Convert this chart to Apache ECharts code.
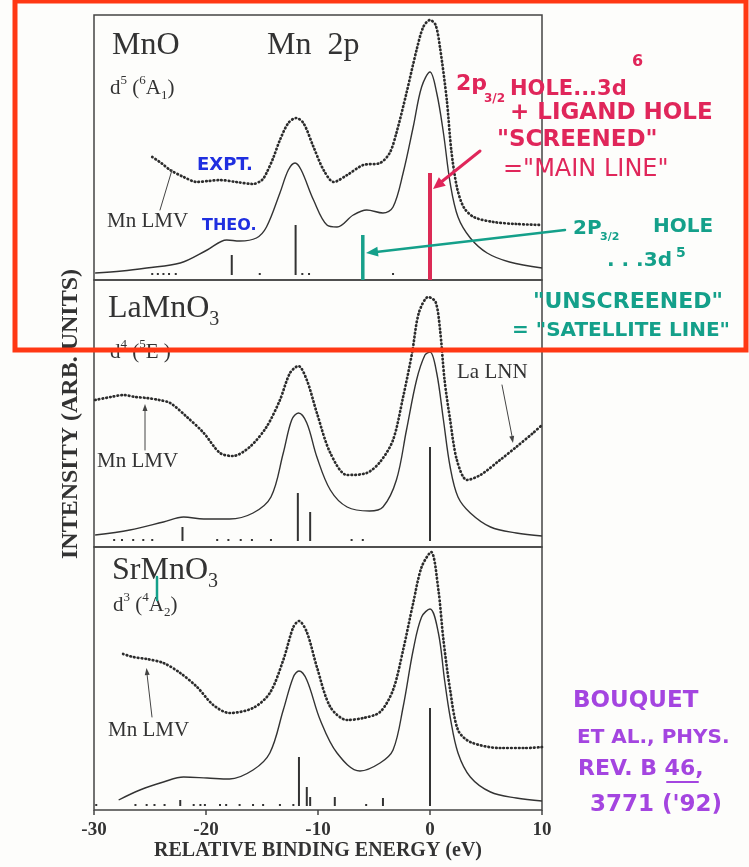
<!DOCTYPE html>
<html>
<head>
<meta charset="utf-8">
<script src="https://cdn.jsdelivr.net/npm/echarts@6/dist/echarts.min.js"></script>
<style>
html,body{margin:0;padding:0;background:#fdfdfb;}
#chart{width:749px;height:867px;}
</style>
</head>
<body>
<div id="chart"></div>
<script>
// ---------------- data (relative binding energy in eV, intensity in arbitrary units) ----------------
const xTicks = [-30, -20, -10, 0, 10];
const xTitle = 'RELATIVE BINDING ENERGY (eV)';
const yTitle = 'INTENSITY (ARB. UNITS)';
const panelNames = ['MnO', 'LaMnO3', 'SrMnO3'];

// MnO
const mnoExpt = [[-24.8,123],[-24.0,117],[-23.2,110],[-22.0,103],[-20.8,98],[-19.8,99],[-18.8,100],[-17.3,98],[-15.8,96],[-15.0,100],[-14.6,107],[-14.0,122],[-13.4,140],[-12.65,157],[-11.96,162],[-11.3,157],[-10.4,133],[-9.5,110],[-8.6,98],[-7.4,105],[-5.95,115],[-4.46,117],[-3.6,127],[-3.0,147],[-2.1,187],[-1.2,230],[-0.6,253],[0,260],[0.5,255],[0.9,232],[1.5,180],[1.9,130],[2.4,93],[3.0,73],[3.9,63],[5.65,58],[7.7,56],[10,55]];
const mnoTheo = [[-29.9,7],[-27.5,9],[-25.3,12],[-22.3,17],[-19.9,30],[-18.15,40],[-17,39],[-15.5,42],[-14.6,53],[-13.4,87],[-12.65,110],[-12.05,117],[-11.5,110],[-10.4,80],[-9.2,55],[-8.3,53],[-6.85,65],[-5.65,70],[-4.2,67],[-3.3,73],[-2.4,107],[-1.5,153],[-0.75,193],[0,208],[0.6,187],[1.2,147],[1.8,97],[2.5,63],[3.6,42],[5.1,27],[7.1,18],[10,12]];
const mnoSticks = [[-24.8,7],[-24.3,7],[-23.8,7],[-23.3,7],[-22.7,7],[-17.7,25],[-15.2,7],[-12,55],[-11.4,7],[-10.8,7],[-6.0,45],[-3.3,7],[0,107]];
const mnoStickBase = 5;

// LaMnO3
const lmoExpt = [[-29.9,147],[-28.5,150],[-27.4,152],[-26.3,150],[-25.3,149],[-24.2,147],[-23.2,144],[-21.7,130],[-20.2,114],[-18.75,94],[-17.6,91],[-16.1,100],[-14.6,120],[-13.4,147],[-12.5,174],[-11.75,181],[-11,167],[-10.1,134],[-8.9,94],[-7.4,72],[-5.65,74],[-4.46,85],[-3.3,107],[-2.4,150],[-1.6,194],[-1.0,234],[-0.15,250],[0.5,245],[0.9,217],[1.3,167],[1.8,127],[2.4,87],[3.3,67],[4.5,72],[6.25,87],[7.7,100],[9.2,114],[10,122]];
const lmoTheo = [[-29.9,12],[-26.8,17],[-23.8,25],[-22,30],[-20.2,28],[-17.9,28],[-15.8,34],[-14.2,50],[-13.1,94],[-12.35,127],[-11.75,134],[-11,124],[-10.1,90],[-8.9,57],[-7.4,40],[-5.4,36],[-4.2,40],[-3.0,67],[-2.1,117],[-1.2,167],[-0.45,192],[0,195],[0.6,174],[1.2,127],[1.8,80],[2.5,50],[3.6,34],[5.4,20],[7.7,14],[10,11]];
const lmoSticks = [[-28.2,8],[-27.5,8],[-26.5,8],[-25.6,8],[-24.8,8],[-22.1,20],[-19.0,8],[-18.0,8],[-16.9,8],[-15.9,8],[-14.2,8],[-11.8,54],[-10.7,35],[-7.0,8],[-6.0,8],[0,100]];
const lmoStickBase = 6;

// SrMnO3
const smoExpt = [[-27.4,156],[-26.5,153],[-25.3,151],[-23.8,147],[-22.3,137],[-20.8,123],[-19.35,105],[-17.9,97],[-15.8,102],[-14.3,117],[-13.1,150],[-12.2,183],[-11.7,189],[-11,178],[-10.1,143],[-8.9,103],[-7.4,90],[-5.95,92],[-4.46,98],[-3.3,120],[-2.4,160],[-1.5,207],[-0.75,243],[0.1,258],[0.75,220],[1.2,170],[1.8,120],[2.5,80],[3.6,68],[6.25,62],[8.5,62],[10,63]];
const smoTheo = [[-27.8,10],[-25.9,20],[-23.8,28],[-22,33],[-19.9,32],[-17.9,31],[-15.8,40],[-14.3,57],[-13.1,100],[-12.2,133],[-11.7,139],[-11,130],[-9.8,90],[-8.3,57],[-6.25,39],[-4.46,47],[-3.3,60],[-2.4,103],[-1.5,160],[-0.75,193],[0,201],[0.75,177],[1.3,130],[1.8,93],[2.5,57],[3.6,33],[5.4,18],[7.7,12],[10,9]];
const smoSticks = [[-29.8,6],[-26.3,6],[-25.3,6],[-24.6,6],[-23.7,6],[-22.3,10],[-21.1,6],[-20.5,6],[-20.1,6],[-18.75,6],[-18.2,6],[-17,6],[-15.8,6],[-14.9,6],[-13.4,6],[-12.2,6],[-11.7,53],[-11.0,23],[-10.7,13],[-8.5,13],[-5.7,6],[-4.2,12],[0,102]];
const smoStickBase = 4;

// highlighted lines in the MnO panel (main line / satellite line)
const mainLine = [[0,107]];
const satelliteLine = [[-6.0,45]];

// ---------------- layout ----------------
const panels = [
  {top:15, height:265, expt:mnoExpt, theo:mnoTheo, sticks:mnoSticks, base:mnoStickBase},
  {top:280, height:267, expt:lmoExpt, theo:lmoTheo, sticks:lmoSticks, base:lmoStickBase},
  {top:547, height:263, expt:smoExpt, theo:smoTheo, sticks:smoSticks, base:smoStickBase}
];
const GL = 94, GW = 448;
const ink = '#333333';
const serif = '"Liberation Serif","Times New Roman",serif';
const hand = '"DejaVu Sans",sans-serif';

function stickSeries(gi, rows, base, color, width, z){
  return {
    type:'custom', xAxisIndex:gi, yAxisIndex:gi, z:z||3,
    data: rows.map(r => [r[0], r[1], base]),
    renderItem: function(params, api){
      const p0 = api.coord([api.value(0), api.value(2)]);
      const p1 = api.coord([api.value(0), api.value(1)]);
      return {type:'line', shape:{x1:p0[0], y1:p0[1], x2:p1[0], y2:p1[1]},
              style:{stroke:color, lineWidth:width}};
    },
    silent:true
  };
}

const grids = [], xAxes = [], yAxes = [], series = [];
panels.forEach((p, i) => {
  grids.push({left:GL, width:GW, top:p.top, height:p.height, show:true,
              borderColor:'#444', borderWidth:1.5, backgroundColor:'transparent'});
  xAxes.push({
    gridIndex:i, type:'value', min:-30, max:10, interval:10,
    axisLine:{show:false}, splitLine:{show:false},
    axisTick:{show:i===2, length:5, lineStyle:{color:'#444', width:1.5}},
    axisLabel:{show:i===2, fontFamily:serif, fontWeight:'bold', fontSize:19, color:ink, margin:11,
               formatter: v => xTicks.includes(v) ? String(v) : ''},
    name: i===2 ? xTitle : '', nameLocation:'middle', nameGap:30,
    nameTextStyle:{fontFamily:serif, fontWeight:'bold', fontSize:20, color:ink}
  });
  yAxes.push({gridIndex:i, type:'value', min:0, max:p.height, show:false});
  series.push({type:'line', xAxisIndex:i, yAxisIndex:i, data:p.theo, smooth:0.35, showSymbol:false,
               lineStyle:{color:ink, width:1.4}, silent:true, z:2});
  series.push({type:'line', xAxisIndex:i, yAxisIndex:i, data:p.expt, smooth:0.3, showSymbol:false,
               lineStyle:{color:'#2c2c2c', width:2.7, type:[0.6,3.2], cap:'round'}, silent:true, z:2});
  series.push(stickSeries(i, p.sticks, p.base, ink, 2));
});
series.push(stickSeries(0, mainLine, 0, '#dc2b55', 4, 6));
series.push(stickSeries(0, satelliteLine, 0, '#17a08b', 3.5, 6));

// ---------------- annotation graphics ----------------
function txt(x, y, text, font, fill, extra){
  return Object.assign({type:'text', x:x, y:y, z:50,
    style:{text:text, font:font, fill:fill, align:'left', verticalAlign:'middle'}}, extra||{});
}
function rtxt(x, y, text, size, z){
  return {type:'text', x:x, y:y, z:z||50, style:{
    text:text, align:'left', verticalAlign:'middle', fill:ink,
    rich:{
      n:{fontFamily:serif, fontSize:size, lineHeight:size*1.3, fill:ink},
      sub:{fontFamily:serif, fontSize:Math.round(size*0.62), lineHeight:size*1.3, verticalAlign:'bottom', fill:ink},
      sup:{fontFamily:serif, fontSize:Math.round(size*0.64), lineHeight:size*1.3, verticalAlign:'top', fill:ink}
    }}};
}
function seg(x1,y1,x2,y2,color,w,z){
  return {type:'line', z:z||50, shape:{x1:x1,y1:y1,x2:x2,y2:y2}, style:{stroke:color, lineWidth:w, lineCap:'round'}};
}
function head(x1,y1,x2,y2,len,half,color,z){
  const dx=x2-x1, dy=y2-y1, L=Math.hypot(dx,dy), ux=dx/L, uy=dy/L;
  const bx=x2-ux*len, by=y2-uy*len;
  return {type:'polygon', z:z||50, shape:{points:[[x2,y2],[bx-uy*half,by+ux*half],[bx+uy*half,by-ux*half]]},
          style:{fill:color}};
}
const red = '#e0265a', teal = '#14a08a', blue = '#1f2fe0', purple = '#a445e0';
const graphics = [
  // printed labels
  rtxt(112, 46, '{n|MnO}', 32),
  rtxt(267, 46, '{n|Mn  2p}', 32),
  rtxt(110, 88, '{n|d}{sup|5}{n| (}{sup|6}{n|A}{sub|1}{n|)}', 21),
  rtxt(107, 221, '{n|Mn LMV}', 21),
  seg(160, 210, 172, 170, '#444', 1),
  rtxt(108, 309, '{n|LaMnO}{sub|3}', 32),
  rtxt(110, 352, '{n|d}{sup|4}{n| (}{sup|5}{n|E )}', 21),
  rtxt(97, 461, '{n|Mn LMV}', 21),
  seg(145, 450, 145, 410, '#444', 1), head(145, 450, 145, 404, 7, 2.5, '#444'),
  rtxt(457, 372, '{n|La LNN}', 21),
  seg(502, 385, 512, 436, '#444', 1), head(502, 385, 513, 443, 7, 2.5, '#444'),
  rtxt(112, 571, '{n|SrMnO}{sub|3}', 32),
  rtxt(113, 605, '{n|d}{sup|3}{n| (}{sup|4}{n|A}{sub|2}{n|)}', 21),
  rtxt(108, 730, '{n|Mn LMV}', 21),
  seg(152, 717, 147, 674, '#444', 1), head(152, 717, 146.5, 668, 7, 2.5, '#444'),
  // y title
  {type:'text', x:71, y:414, rotation:Math.PI/2, z:50,
   style:{text:yTitle, font:'bold 24px ' + serif, fill:ink, align:'center', verticalAlign:'middle'}},
  // handwritten: blue
  txt(197, 165, 'EXPT.', 'bold 18px ' + hand, blue),
  txt(202, 226, 'THEO.', 'bold 16px ' + hand, blue),
  // handwritten: red
  txt(456, 84, '2p', 'bold 22px ' + hand, red),
  txt(484, 99, '3/2', 'bold 12px ' + hand, red),
  txt(510, 90, 'HOLE...3d', 'bold 21px ' + hand, red),
  txt(632, 62, '6', 'bold 16px ' + hand, red),
  txt(510, 113, '+ LIGAND HOLE', 'bold 23px ' + hand, red),
  txt(497, 140, '"SCREENED"', 'bold 23px ' + hand, red),
  txt(503, 170, '="MAIN LINE"', '24px ' + hand, red),
  seg(480, 151, 440, 183, red, 3), head(480, 151, 433, 189, 12, 5.5, red),
  // handwritten: teal
  txt(573, 229, '2P', 'bold 20px ' + hand, teal),
  txt(600, 237, '3/2', 'bold 11px ' + hand, teal),
  txt(653, 227, 'HOLE', 'bold 20px ' + hand, teal),
  txt(607, 261, '. . .3d', 'bold 20px ' + hand, teal),
  txt(676, 253, '5', 'bold 14px ' + hand, teal),
  txt(533, 302, '"UNSCREENED"', 'bold 22px ' + hand, teal),
  txt(512, 331, '= "SATELLITE LINE"', 'bold 20px ' + hand, teal),
  seg(565, 230, 376, 252, teal, 2.5), head(565, 230, 366, 253, 12, 5, teal),
  seg(157, 577, 157, 600, teal, 2.5),
  // handwritten: purple reference
  txt(573, 701, 'BOUQUET', 'bold 23px ' + hand, purple),
  txt(577, 738, 'ET AL., PHYS.', 'bold 20px ' + hand, purple),
  txt(578, 769, 'REV. B 46,', 'bold 22px ' + hand, purple),
  seg(667, 782, 698, 782, purple, 2),
  txt(590, 805, "3771 ('92)", 'bold 23px ' + hand, purple),
  // red highlight frame
  {type:'rect', z:100, shape:{x:15, y:1, width:731, height:349},
   style:{fill:'none', stroke:'#ff3814', lineWidth:5}}
];

const chart = echarts.init(document.getElementById('chart'), null, {renderer:'canvas'});
chart.setOption({
  backgroundColor:'#fdfdfb',
  animation:false,
  grid:grids, xAxis:xAxes, yAxis:yAxes, series:series,
  graphic:graphics
});
</script>
</body>
</html>
